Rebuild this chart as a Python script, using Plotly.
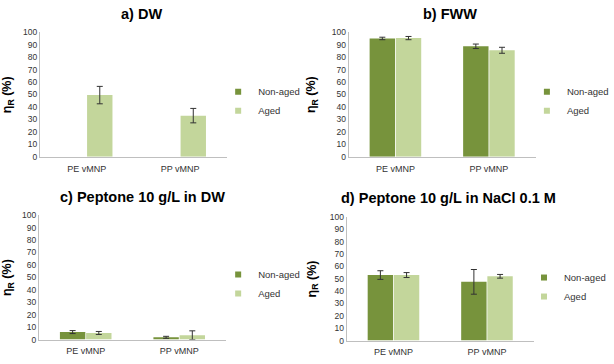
import plotly.graph_objects as go

W, H = 614, 364

categories = ["PE vMNP", "PP vMNP"]
series_names = ["Non-aged", "Aged"]
panel_titles = ["a) DW", "b) FWW", "c) Peptone 10 g/L in DW", "d) Peptone 10 g/L in NaCl 0.1 M"]

# values per panel: [non-aged], [aged]
a_nonaged = [None, None]
a_nonaged_err = [0, 0]
a_aged = [49.5, 33]
a_aged_err = [7, 5.8]

b_nonaged = [95, 88.7]
b_nonaged_err = [1, 1.8]
b_aged = [95.3, 85.5]
b_aged_err = [1.3, 2.4]

c_nonaged = [6, 1.8]
c_nonaged_err = [1.2, 0.8]
c_aged = [5.3, 3.5]
c_aged_err = [1.2, 3.5]

d_nonaged = [53, 47.5]
d_nonaged_err = [3.5, 10]
d_aged = [53, 52]
d_aged_err = [2, 1.5]

y_ticks = list(range(0, 101, 10))

panels = [
    (a_nonaged, a_nonaged_err, a_aged, a_aged_err),
    (b_nonaged, b_nonaged_err, b_aged, b_aged_err),
    (c_nonaged, c_nonaged_err, c_aged, c_aged_err),
    (d_nonaged, d_nonaged_err, d_aged, d_aged_err),
]

colors = ["#77933C", "#C3D69B"]
FONT = "Liberation Sans"

# pixel layout of each panel: (x0, x1, ytop, ybottom)
boxes = [
    (41, 233, 28, 156),
    (358, 550, 28, 156),
    (40, 232, 216, 344),
    (356, 548, 218, 345),
]
title_pos = [(145, 9), (462, 9), (146, 197), (461, 198)]
legend_pos = [(224, 99), (541, 99), (224, 287), (538, 290)]
ytitle_x = [9, 321, 9, 321]

fig = go.Figure()
for i, (na, nae, ag, age) in enumerate(panels):
    sfx = "" if i == 0 else str(i + 1)
    xa, ya = "x" + sfx, "y" + sfx
    lg = "legend" + sfx
    for j, (vals, errs) in enumerate([(na, nae), (ag, age)]):
        fig.add_trace(go.Bar(
            x=categories, y=vals, xaxis=xa, yaxis=ya,
            marker=dict(color=colors[j], line=dict(width=0)),
            error_y=dict(type="data", array=errs, visible=True,
                         color="#333333", thickness=1, width=3),
            showlegend=False, name=series_names[j]))
    for j in range(2):
        fig.add_trace(go.Scatter(
            x=[None], y=[None], xaxis=xa, yaxis=ya, mode="markers",
            marker=dict(symbol="square", size=6, color=colors[j]),
            name=series_names[j], legend=lg, showlegend=True))

    x0, x1, yt, yb = boxes[i]
    axx = dict(domain=[x0 / W, x1 / W], anchor=ya, showline=True,
               linecolor="#BFBFBF", linewidth=1, ticks="", showgrid=False,
               tickfont=dict(family=FONT, size=9, color="#333333"),
               ticklabelstandoff=3, fixedrange=True)
    axy = dict(domain=[1 - yb / H, 1 - yt / H], anchor=xa, range=[0, 100],
               tickvals=y_ticks, showline=True, linecolor="#BFBFBF",
               linewidth=1, ticks="", showgrid=False, zeroline=False,
               tickfont=dict(family=FONT, size=8.5, color="#333333"))
    fig.layout["xaxis" + sfx] = axx
    fig.layout["yaxis" + sfx] = axy

    lx, ly = legend_pos[i]
    fig.layout[lg] = dict(x=lx / W, y=1 - ly / H, xanchor="left",
                          yanchor="middle", bgcolor="rgba(0,0,0,0)",
                          font=dict(family=FONT, size=9.5, color="#333333"),
                          itemwidth=30, tracegroupgap=0)

    tx, ty = title_pos[i]
    fig.add_annotation(text="<b>%s</b>" % panel_titles[i], x=tx / W, y=1 - ty / H,
                       xref="paper", yref="paper", showarrow=False,
                       xanchor="center", yanchor="middle",
                       font=dict(family=FONT, size=14.5, color="#000000"))
    fig.add_annotation(text="<b>η<sub>R</sub> (%)</b>", x=ytitle_x[i] / W,
                       y=1 - ((yt + yb) / 2) / H, xref="paper", yref="paper",
                       showarrow=False, textangle=-90, xanchor="center", yanchor="middle",
                       font=dict(family=FONT, size=12.5, color="#000000"))

fig.update_layout(width=W, height=H, margin=dict(l=0, r=0, t=0, b=0),
                  paper_bgcolor="white", plot_bgcolor="white",
                  barmode="group", bargap=0.44, bargroupgap=0.03)

fig.write_html("out.html", config={"displayModeBar": False},
               post_script="document.body.style.margin='0';")
